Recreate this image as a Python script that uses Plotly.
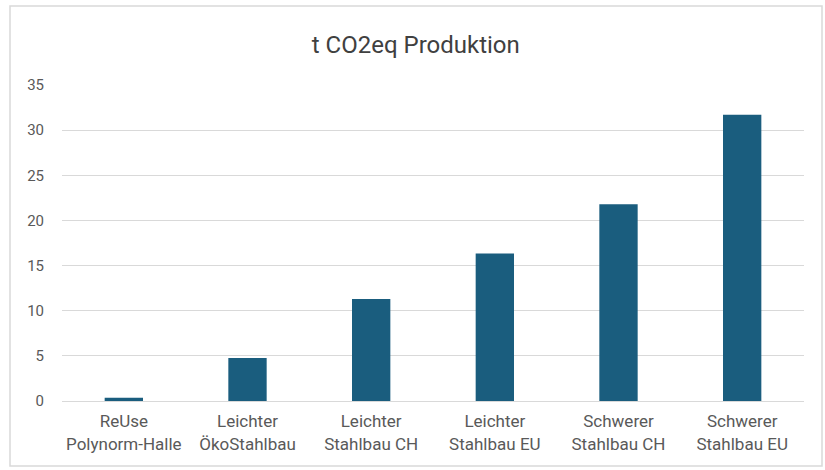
import plotly.graph_objects as go

categories = ["ReUse<br>Polynorm-Halle", "Leichter<br>ÖkoStahlbau", "Leichter<br>Stahlbau CH",
              "Leichter<br>Stahlbau EU", "Schwerer<br>Stahlbau CH", "Schwerer<br>Stahlbau EU"]
values = [0.35, 4.75, 11.3, 16.35, 21.8, 31.7]
y_ticks = [0, 5, 10, 15, 20, 25, 30, 35]

fig = go.Figure(go.Bar(x=categories, y=values, marker_color="#1a5d7e", marker_line_width=0))

fig.update_layout(
    width=825, height=470,
    margin=dict(l=62, r=21, t=85, b=69),
    paper_bgcolor="white", plot_bgcolor="white",
    bargap=0.69,
    font=dict(family="Roboto, Arial, sans-serif", color="#595959", size=15),
    title=dict(text="t CO2eq Produktion", x=0.504, xanchor="center", y=0.905, yanchor="middle",
               font=dict(size=24, color="#404040")),
    showlegend=False,
    shapes=[dict(type="rect", xref="paper", yref="paper",
                 x0=-52/742, x1=1 + 18/742, y0=-65/316, y1=1 + 79/316,
                 line=dict(color="#d9d9d9", width=1.5), fillcolor="rgba(0,0,0,0)", layer="below")],
)
fig.update_yaxes(range=[0, 35], tickvals=y_ticks, showgrid=True, gridcolor="#d9d9d9", gridwidth=1,
                 zeroline=False, showline=False, ticks="", ticklabelstandoff=17,
                 tickfont=dict(size=15, color="#595959"))
fig.update_xaxes(showline=True, linecolor="#d9d9d9", linewidth=1, ticks="",
                 tickfont=dict(size=17, color="#595959"), ticklabelstandoff=5)

fig.write_html("out.html")
